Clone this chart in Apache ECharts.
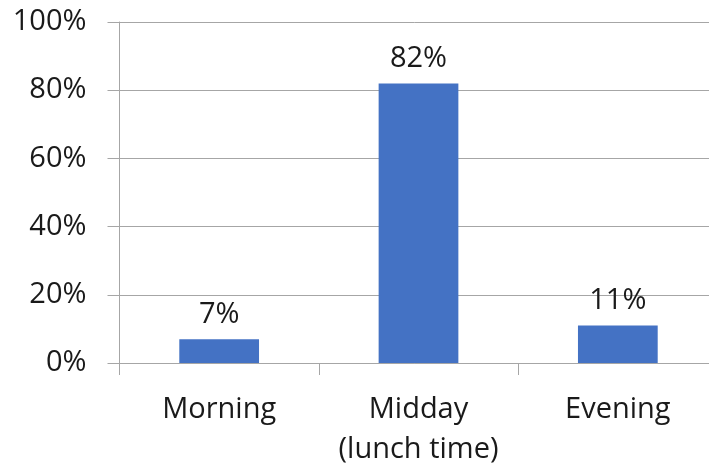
<!DOCTYPE html>
<html>
<head>
<meta charset="utf-8">
<style>
  html, body { margin: 0; padding: 0; background: #fff; }
  #chart { width: 709px; height: 466px; }
</style>
<script src="https://cdn.jsdelivr.net/npm/echarts@6/dist/echarts.min.js"></script>
</head>
<body>
<div id="chart"></div>
<script>
// Share of responses by time of day
const categories = ['Morning', 'Midday\n(lunch time)', 'Evening'];
const shares = [7, 82, 11];
const yTicks = { min: 0, max: 100, interval: 20 };

const chart = echarts.init(document.getElementById('chart'));
const font = '"Open Sans", sans-serif';
const gray = '#A6A6A6';

chart.setOption({
  animation: false,
  grid: {
    left: 119.5, top: 22, width: 598, bottom: 103,
    containLabel: false, outerBoundsMode: 'none'
  },
  xAxis: {
    type: 'category',
    data: categories,
    boundaryGap: true,
    axisLine: { show: true, lineStyle: { color: gray, width: 1 } },
    axisTick: { show: true, length: 12, alignWithLabel: false, lineStyle: { color: gray } },
    axisLabel: {
      color: '#1a1a1a', fontFamily: font, fontSize: 29, margin: 27,
      lineHeight: 40, interval: 0
    },
    splitLine: { show: false }
  },
  yAxis: {
    type: 'value',
    min: yTicks.min, max: yTicks.max, interval: yTicks.interval,
    axisLine: { show: true, lineStyle: { color: gray, width: 1 } },
    axisTick: { show: true, length: 12, lineStyle: { color: gray } },
    axisLabel: {
      color: '#1a1a1a', fontFamily: font, fontSize: 29, margin: 33,
      formatter: v => v + '%'
    },
    splitLine: { show: true, lineStyle: { color: gray, width: 1 } }
  },
  series: [{
    type: 'bar',
    data: shares,
    barWidth: '40%',
    itemStyle: { color: '#4472C4' },
    label: {
      show: true, position: 'top', distance: 10,
      color: '#1a1a1a', fontFamily: font, fontSize: 29,
      formatter: p => p.value + '%'
    }
  }]
});
</script>
</body>
</html>
